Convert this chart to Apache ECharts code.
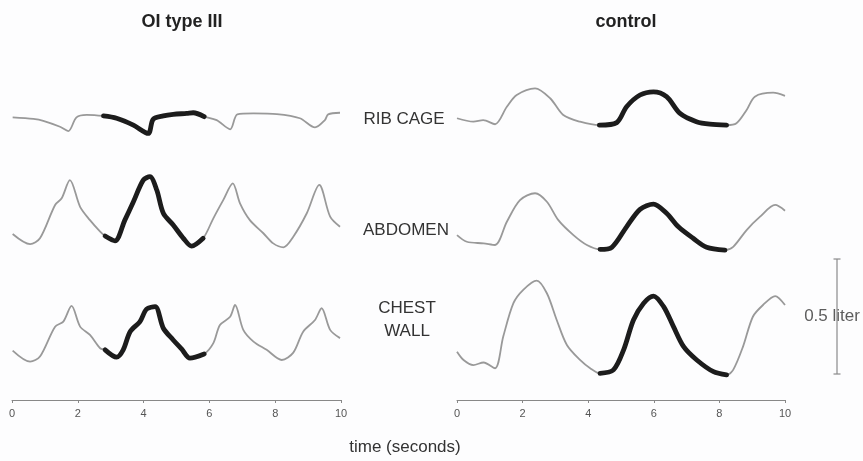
<!DOCTYPE html>
<html>
<head>
    <meta charset="utf-8">
    <title>OI type III vs control</title>
    <script src="https://cdn.jsdelivr.net/npm/echarts@6/dist/echarts.min.js"></script>
</head>
<body style="margin:0;background:#fdfdfe;">
<div id="chart1" style="width:863px;height:461px;"></div>
<script type="text/javascript">
    // 时间刻度 (seconds)
    var xTicks = [0, 2, 4, 6, 8, 10];
    var channels = ['RIB CAGE', 'ABDOMEN', 'CHEST\nWALL'];

    // OI type III — volume (liters above trace floor)
    var oiRibT = [0.02, 0.65, 0.95, 1.46, 1.71, 1.96, 2.27, 2.78, 3.18, 3.69, 4.14, 4.29, 4.60, 4.90, 5.31, 5.51, 5.84, 6.22, 6.63, 6.85, 7.34, 8.05, 8.75, 9.21, 9.51, 9.61, 9.97];
    var oiRibV = [0.077, 0.070, 0.062, 0.036, 0.017, 0.077, 0.088, 0.083, 0.073, 0.043, 0.007, 0.068, 0.083, 0.090, 0.094, 0.097, 0.080, 0.065, 0.025, 0.090, 0.094, 0.091, 0.073, 0.033, 0.065, 0.090, 0.097];
    var oiAbdT = [0.02, 0.55, 0.85, 1.31, 1.51, 1.76, 2.07, 2.37, 2.68, 2.83, 3.13, 3.43, 3.69, 3.99, 4.19, 4.40, 4.60, 4.90, 5.21, 5.46, 5.81, 6.12, 6.42, 6.71, 6.93, 7.23, 7.64, 7.94, 8.25, 8.55, 8.96, 9.34, 9.67, 9.97];
    var oiAbdV = [0.070, 0.026, 0.051, 0.196, 0.225, 0.304, 0.188, 0.130, 0.080, 0.061, 0.040, 0.130, 0.210, 0.304, 0.319, 0.261, 0.160, 0.109, 0.051, 0.017, 0.051, 0.138, 0.217, 0.290, 0.203, 0.130, 0.073, 0.029, 0.012, 0.058, 0.160, 0.283, 0.145, 0.101];
    var oiChwT = [0.02, 0.55, 0.85, 1.31, 1.56, 1.81, 2.07, 2.37, 2.68, 2.83, 3.18, 3.38, 3.59, 3.89, 4.09, 4.35, 4.60, 4.90, 5.16, 5.41, 5.84, 6.12, 6.32, 6.63, 6.78, 7.03, 7.34, 7.74, 8.20, 8.55, 8.85, 9.21, 9.41, 9.67, 9.97];
    var oiChwV = [0.106, 0.058, 0.080, 0.210, 0.232, 0.300, 0.210, 0.174, 0.116, 0.109, 0.077, 0.109, 0.188, 0.232, 0.286, 0.297, 0.203, 0.152, 0.112, 0.073, 0.091, 0.138, 0.217, 0.253, 0.304, 0.196, 0.145, 0.109, 0.065, 0.097, 0.188, 0.239, 0.290, 0.196, 0.160];

    // control
    var ctRibT = [0.0, 0.50, 0.80, 1.16, 1.52, 1.82, 2.38, 2.84, 3.24, 3.75, 4.34, 4.87, 5.17, 5.58, 5.99, 6.39, 6.80, 7.30, 7.71, 8.22, 8.52, 8.83, 9.08, 9.64, 10.0];
    var ctRibV = [0.073, 0.058, 0.065, 0.047, 0.123, 0.174, 0.203, 0.160, 0.087, 0.058, 0.043, 0.054, 0.123, 0.174, 0.188, 0.167, 0.094, 0.058, 0.047, 0.043, 0.051, 0.109, 0.167, 0.184, 0.170];
    var ctAbdT = [0.0, 0.30, 0.81, 1.16, 1.52, 1.92, 2.38, 2.74, 3.09, 3.55, 3.96, 4.36, 4.72, 5.17, 5.58, 5.99, 6.39, 6.75, 7.20, 7.61, 8.17, 8.42, 8.83, 9.24, 9.70, 10.0];
    var ctAbdV = [0.065, 0.036, 0.029, 0.022, 0.123, 0.217, 0.247, 0.210, 0.130, 0.065, 0.022, 0.003, 0.012, 0.101, 0.177, 0.200, 0.160, 0.101, 0.051, 0.012, 0.000, 0.014, 0.087, 0.145, 0.196, 0.171];
    var ctChwT = [0.0, 0.20, 0.50, 0.81, 1.16, 1.41, 1.72, 2.02, 2.43, 2.74, 3.04, 3.35, 3.75, 4.06, 4.36, 4.77, 5.08, 5.38, 5.69, 5.99, 6.30, 6.60, 6.91, 7.31, 7.82, 8.22, 8.42, 8.72, 9.02, 9.33, 9.70, 10.0];
    var ctChwV = [0.101, 0.065, 0.043, 0.054, 0.029, 0.167, 0.312, 0.370, 0.410, 0.355, 0.239, 0.130, 0.065, 0.029, 0.007, 0.022, 0.109, 0.239, 0.312, 0.343, 0.297, 0.210, 0.123, 0.065, 0.014, 0.000, 0.022, 0.123, 0.253, 0.304, 0.343, 0.304];

    // 高亮的呼吸周期 (seconds)
    var oiWindow = [2.78, 5.84];
    var ctWindow = [4.34, 8.22];
    var scaleLiters = 0.5;

    // 各通道的垂直偏移 (liters)
    var offsets = [1.152, 0.652, 0.109];

    var myChart1 = echarts.init(document.getElementById('chart1'));

    function pts(t, v, off, win) {
        var out = [];
        for (var i = 0; i < t.length; i++) {
            if (win && (t[i] < win[0] - 0.02 || t[i] > win[1] + 0.02)) continue;
            out.push([t[i], v[i] + off]);
        }
        return out;
    }

    var panels = [
        {win: oiWindow, tr: [[oiRibT, oiRibV], [oiAbdT, oiAbdV], [oiChwT, oiChwV]]},
        {win: ctWindow, tr: [[ctRibT, ctRibV], [ctAbdT, ctAbdV], [ctChwT, ctChwV]]}
    ];

    var series = [];
    panels.forEach(function (p, gi) {
        p.tr.forEach(function (tv, ci) {
            series.push({
                type: 'line', xAxisIndex: gi, yAxisIndex: gi, showSymbol: false, silent: true, smooth: 0.3,
                lineStyle: {color: '#999999', width: 1.8},
                data: pts(tv[0], tv[1], offsets[ci])
            });
        });
        p.tr.forEach(function (tv, ci) {
            series.push({
                type: 'line', xAxisIndex: gi, yAxisIndex: gi, showSymbol: false, silent: true, smooth: 0.3,
                lineStyle: {color: '#1c1c1c', width: 4.8, cap: 'round', join: 'round'},
                data: pts(tv[0], tv[1], offsets[ci], p.win)
            });
        });
    });

    // 0.5 liter scale bar
    var barLo = 0.113;
    series.push({
        type: 'line', xAxisIndex: 2, yAxisIndex: 2, silent: true,
        symbol: 'rect', symbolSize: [7, 1.2], showSymbol: true,
        itemStyle: {color: '#8a8a8a'},
        lineStyle: {color: '#8a8a8a', width: 1.2},
        data: [[0.5, barLo], [0.5, barLo + scaleLiters]]
    });
    series.push({
        type: 'scatter', xAxisIndex: 2, yAxisIndex: 2, silent: true, symbolSize: 0,
        data: [[0.5, barLo + scaleLiters / 2]],
        label: {
            show: true, position: 'inside', offset: [-5, 0], formatter: '0.5 liter',
            fontSize: 17, color: '#333', fontFamily: 'Liberation Sans',
            backgroundColor: '#fdfdfe', padding: [4, 0]
        }
    });

    var xAxisBase = {
        type: 'value', min: 0, max: 10, interval: 2,
        axisLine: {show: true, lineStyle: {color: '#888', width: 1}},
        axisTick: {show: true, length: 3, lineStyle: {color: '#888'}},
        axisLabel: {fontSize: 11, color: '#555', margin: 8, fontFamily: 'Liberation Sans'},
        splitLine: {show: false}
    };
    var yAxisBase = {type: 'value', min: 0, max: 1.5, show: false};
    var txt = {fontSize: 17, fontWeight: 'normal', color: '#333', fontFamily: 'Liberation Sans'};

    myChart1.setOption({
        backgroundColor: '#fdfdfe',
        animation: false,
        title: [
            {text: 'OI type III', left: 177, top: 8, textAlign: 'center',
                textStyle: {fontSize: 18, fontWeight: 'bold', color: '#222', fontFamily: 'Liberation Sans'}},
            {text: 'control', left: 621, top: 8, textAlign: 'center',
                textStyle: {fontSize: 18, fontWeight: 'bold', color: '#222', fontFamily: 'Liberation Sans'}},
            {text: 'time (seconds)', left: 400, top: 434, textAlign: 'center', textStyle: txt},
            {text: channels[0], left: 399, top: 106, textAlign: 'center', textStyle: txt},
            {text: channels[1], left: 401, top: 217, textAlign: 'center', textStyle: txt},
            {text: channels[2], left: 402, top: 292, textAlign: 'center',
                textStyle: Object.assign({lineHeight: 23}, txt)}
        ],
        grid: [
            {left: 12, width: 329, top: 55, bottom: 61},
            {left: 457, width: 328, top: 55, bottom: 61},
            {left: 817, width: 40, top: 55, bottom: 61}
        ],
        xAxis: [
            Object.assign({gridIndex: 0}, xAxisBase),
            Object.assign({gridIndex: 1}, xAxisBase),
            {gridIndex: 2, type: 'value', min: 0, max: 1, show: false}
        ],
        yAxis: [
            Object.assign({gridIndex: 0}, yAxisBase),
            Object.assign({gridIndex: 1}, yAxisBase),
            Object.assign({gridIndex: 2}, yAxisBase)
        ],
        series: series
    });
</script>
</body>
</html>
